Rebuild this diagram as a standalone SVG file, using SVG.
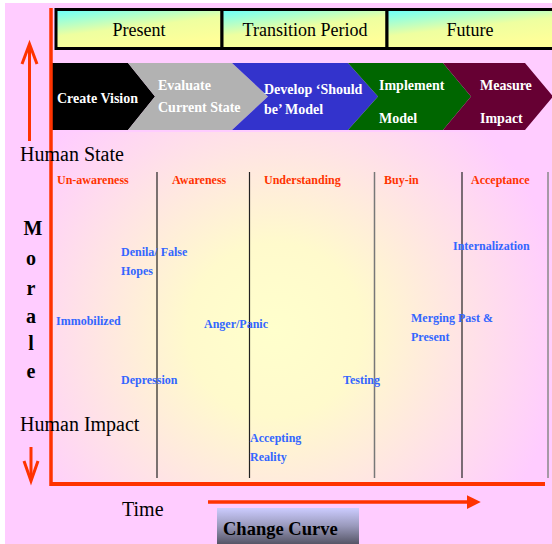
<svg xmlns="http://www.w3.org/2000/svg" width="552" height="544" viewBox="0 0 552 544">
<defs>
<radialGradient id="bg" gradientUnits="userSpaceOnUse" cx="275" cy="330" r="290">
<stop offset="0" stop-color="#FFFFCC"/>
<stop offset="0.3" stop-color="#FFFACC"/>
<stop offset="1" stop-color="#FFCCFF"/>
</radialGradient>
<linearGradient id="hdr" x1="0" y1="0" x2="0.5" y2="1">
<stop offset="0" stop-color="#66FFFF"/>
<stop offset="0.55" stop-color="#EEFFA0"/>
<stop offset="1" stop-color="#FFFF99"/>
</linearGradient>
<linearGradient id="cc" x1="0" y1="0" x2="0" y2="1">
<stop offset="0" stop-color="#CCCCFF"/>
<stop offset="0.5" stop-color="#9999BB"/>
<stop offset="1" stop-color="#555566"/>
</linearGradient>
<marker id="tri" markerWidth="4" markerHeight="4" refX="1.5" refY="2" orient="auto" markerUnits="strokeWidth">
<path d="M0,0 L4,2 L0,4 z" fill="#FF3300"/>
</marker>
</defs>
<style>
.hd{font-family:"Liberation Serif",serif;font-size:18px;fill:#000;text-anchor:middle}
.ch{font-family:"Liberation Serif",serif;font-size:14px;font-weight:bold;fill:#FFF}
.st{font-family:"Liberation Serif",serif;font-size:12px;font-weight:bold;fill:#FF3300}
.bl{font-family:"Liberation Serif",serif;font-size:12px;font-weight:bold;fill:#3366FF}
.big{font-family:"Liberation Serif",serif;font-size:20px;fill:#000}
.mo{font-family:"Liberation Serif",serif;font-size:20px;font-weight:bold;fill:#000;text-anchor:middle}
.div{stroke:#222;stroke-width:1.2}
.red{stroke:#FF3300;fill:none}
</style>
<rect x="0" y="0" width="552" height="544" fill="#FFFFFF"/>
<rect x="5" y="3" width="547" height="541" fill="#FFCCFF"/>
<rect x="52" y="132" width="500" height="352" fill="url(#bg)"/>

<g id="header">
<rect x="56" y="9.5" width="166" height="39" fill="url(#hdr)" stroke="#000" stroke-width="3"/>
<rect x="222" y="9.5" width="165" height="39" fill="url(#hdr)" stroke="#000" stroke-width="3"/>
<rect x="387" y="9.5" width="175" height="39" fill="url(#hdr)" stroke="#000" stroke-width="3"/>
<text class="hd" x="139" y="36">Present</text>
<text class="hd" x="305" y="36">Transition Period</text>
<text class="hd" x="470" y="36">Future</text>
</g>

<g id="step-create-vision">
<polygon points="52,63 128,63 155,96.5 128,130 52,130" fill="#000000"/>
<text class="ch" x="57" y="103">Create Vision</text>
</g>
<g id="step-evaluate">
<polygon points="128,63 232,63 268,96.5 232,130 128,130 155,96.5" fill="#B2B2B2"/>
<text class="ch" x="158" y="90">Evaluate</text>
<text class="ch" x="158" y="112">Current State</text>
</g>
<g id="step-develop">
<polygon points="232,63 348,63 378,96.5 348,130 232,130 268,96.5" fill="#3333CC"/>
<text class="ch" x="264" y="94">Develop ‘Should</text>
<text class="ch" x="264" y="114">be’ Model</text>
</g>
<g id="step-implement">
<polygon points="348,63 443,63 471,96.5 443,130 348,130 378,96.5" fill="#006600"/>
<text class="ch" x="379" y="90">Implement</text>
<text class="ch" x="379" y="123">Model</text>
</g>
<g id="step-measure">
<polygon points="443,63 525,63 553,96.5 525,130 443,130 471,96.5" fill="#660033"/>
<text class="ch" x="480" y="90">Measure</text>
<text class="ch" x="480" y="123">Impact</text>
</g>

<g id="connectors">
<line class="red" x1="51" y1="8" x2="51" y2="486" stroke-width="3.5"/>
<line class="red" x1="50" y1="484" x2="545" y2="484" stroke-width="4"/>
<line class="red" x1="29.5" y1="44" x2="29.5" y2="141" stroke-width="3"/>
<polyline class="red" points="22,64 29.5,44 37,64" stroke-width="3"/>
<line class="red" x1="31" y1="447" x2="31" y2="480" stroke-width="3"/>
<polyline class="red" points="24,461 31,481 38,461" stroke-width="3"/>
<line class="red" x1="208" y1="502" x2="472" y2="502" stroke-width="3.5" marker-end="url(#tri)"/>
<line class="div" x1="157" y1="172" x2="157" y2="478"/>
<line class="div" x1="249.5" y1="172" x2="249.5" y2="478"/>
<line x1="374.5" y1="172" x2="374.5" y2="478" stroke="#777" stroke-width="1.5"/>
<line class="div" x1="462" y1="172" x2="462" y2="478"/>
<line x1="548" y1="172" x2="548" y2="478" stroke="#888" stroke-width="1.5"/>
</g>

<g id="axis-labels">
<text class="big" x="20" y="161">Human State</text>
<text class="big" x="20" y="431">Human Impact</text>
<text class="big" x="122" y="516">Time</text>
<text class="mo" x="33" y="235">M</text>
<text class="mo" x="31" y="265">o</text>
<text class="mo" x="31" y="295">r</text>
<text class="mo" x="31" y="323">a</text>
<text class="mo" x="31" y="350">l</text>
<text class="mo" x="31" y="378">e</text>
</g>

<g id="stages">
<text class="st" x="57" y="184">Un-awareness</text>
<text class="st" x="172" y="184">Awareness</text>
<text class="st" x="264" y="184">Understanding</text>
<text class="st" x="384" y="184">Buy-in</text>
<text class="st" x="471" y="184">Acceptance</text>
</g>

<g id="emotions">
<text class="bl" x="121" y="256">Denila/ False</text>
<text class="bl" x="121" y="275">Hopes</text>
<text class="bl" x="56" y="325">Immobilized</text>
<text class="bl" x="204" y="328">Anger/Panic</text>
<text class="bl" x="121" y="384">Depression</text>
<text class="bl" x="343" y="384">Testing</text>
<text class="bl" x="250" y="442">Accepting</text>
<text class="bl" x="250" y="461">Reality</text>
<text class="bl" x="453" y="250">Internalization</text>
<text class="bl" x="411" y="322">Merging Past &amp;</text>
<text class="bl" x="411" y="341">Present</text>
</g>

<g id="change-curve">
<rect x="217" y="508" width="142" height="36" fill="url(#cc)"/>
<text x="223" y="535" font-family="Liberation Serif, serif" font-size="18.5" font-weight="bold" fill="#000">Change Curve</text>
</g>
</svg>
